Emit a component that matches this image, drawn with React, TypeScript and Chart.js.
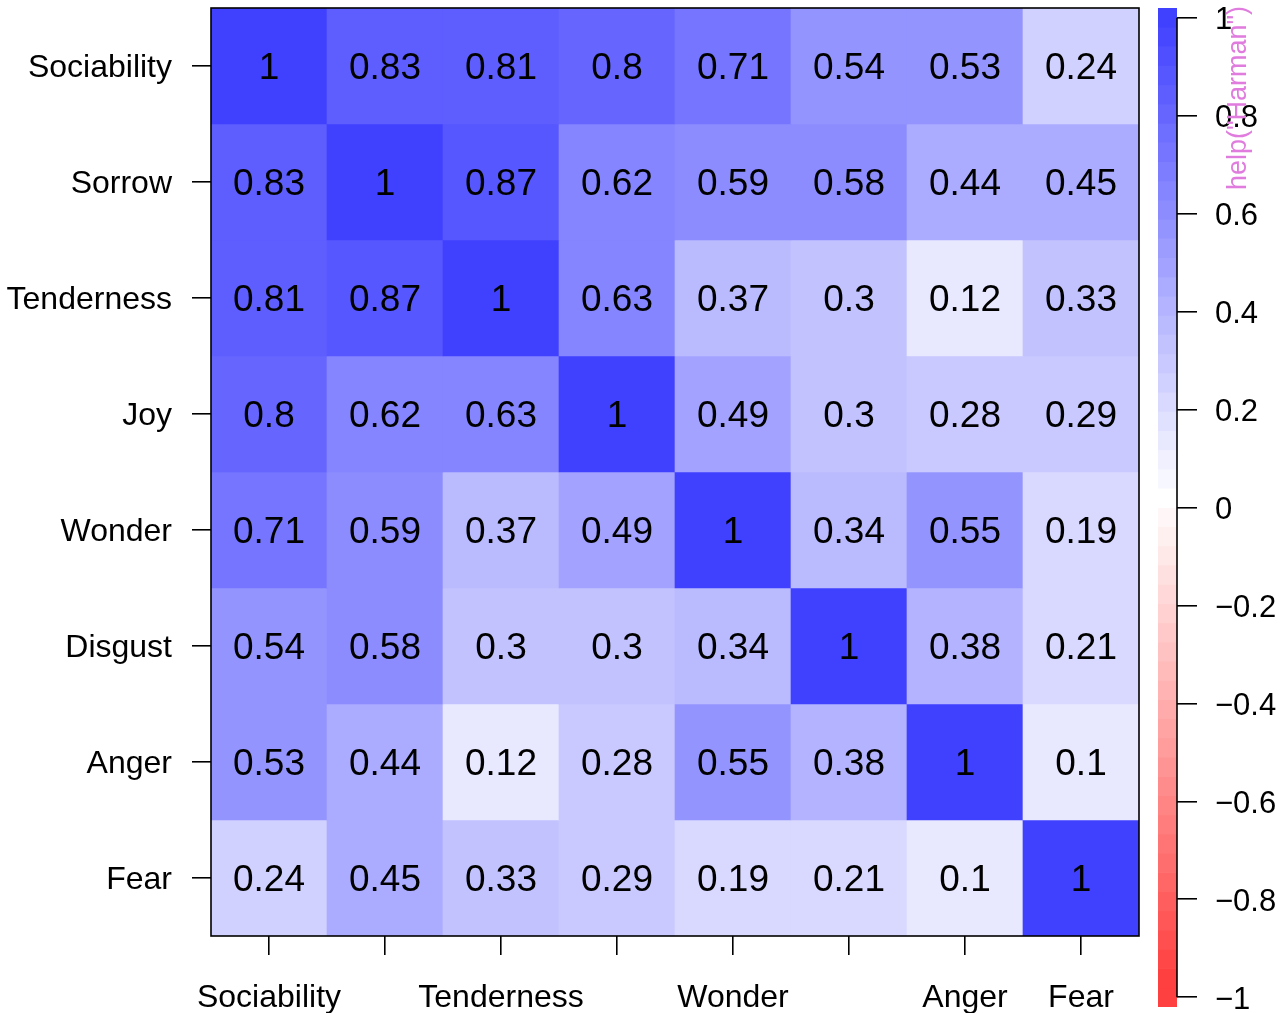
import React, { useEffect, useRef } from "react";
import { Chart, registerables } from "chart.js";

Chart.register(...registerables);

const FONT = '"Liberation Sans", Arial, Helvetica, sans-serif';

const rowLabels = ["Sociability", "Sorrow", "Tenderness", "Joy", "Wonder", "Disgust", "Anger", "Fear"];
const colLabels = ["Sociability", "Sorrow", "Tenderness", "Joy", "Wonder", "Disgust", "Anger", "Fear"];
// R drops overlapping axis labels: only these are printed
const shownColLabels = ["Sociability", "", "Tenderness", "", "Wonder", "", "Anger", "Fear"];

const sociability = [1, 0.83, 0.81, 0.8, 0.71, 0.54, 0.53, 0.24];
const sorrow = [0.83, 1, 0.87, 0.62, 0.59, 0.58, 0.44, 0.45];
const tenderness = [0.81, 0.87, 1, 0.63, 0.37, 0.3, 0.12, 0.33];
const joy = [0.8, 0.62, 0.63, 1, 0.49, 0.3, 0.28, 0.29];
const wonder = [0.71, 0.59, 0.37, 0.49, 1, 0.34, 0.55, 0.19];
const disgust = [0.54, 0.58, 0.3, 0.3, 0.34, 1, 0.38, 0.21];
const anger = [0.53, 0.44, 0.12, 0.28, 0.55, 0.38, 1, 0.1];
const fear = [0.24, 0.45, 0.33, 0.29, 0.19, 0.21, 0.1, 1];

const matrix = [sociability, sorrow, tenderness, joy, wonder, disgust, anger, fear];

const colorbarTicks = [1, 0.8, 0.6, 0.4, 0.2, 0, -0.2, -0.4, -0.6, -0.8, -1];
const colorbarTickLabels = ["1", "0.8", "0.6", "0.4", "0.2", "0", "\u22120.2", "\u22120.4", "\u22120.6", "\u22120.8", "\u22121"];
const titleText = 'help("Harman")';

const NCOL = 51;
const ALPHA = 0.75;

function levelColor(level: number): string {
  // level in -25..25 ; red-white-blue ramp with alpha 0.75 over white
  const t = Math.min(1, Math.abs(level) / 25);
  const c = Math.round(255 * (1 - ALPHA * t));
  return level >= 0 ? `rgb(${c},${c},255)` : `rgb(255,${c},${c})`;
}

function valueColor(v: number): string {
  let bin = Math.ceil((v + 1) * (NCOL / 2)) - 1;
  bin = Math.max(0, Math.min(NCOL - 1, bin));
  return levelColor(bin - 25);
}

function fixSize(prop: "width" | "height", size: number) {
  return (scale: any) => {
    scale[prop] = size;
    scale.paddingTop = 0;
    scale.paddingBottom = 0;
    scale.paddingLeft = 0;
    scale.paddingRight = 0;
  };
}

export default function App() {
  const mainRef = useRef<HTMLCanvasElement>(null);
  const barRef = useRef<HTMLCanvasElement>(null);

  useEffect(() => {
    const cellTextPlugin = {
      id: "cellText",
      afterDatasetsDraw(chart: any) {
        const { ctx, chartArea, scales } = chart;
        const xs = scales.x;
        const ys = scales.y;
        ctx.save();
        ctx.font = `37px ${FONT}`;
        ctx.fillStyle = "#000";
        ctx.textAlign = "center";
        ctx.textBaseline = "middle";
        matrix.forEach((row, r) => {
          row.forEach((v, c) => {
            const x = xs.getPixelForValue(c);
            const y = ys.getPixelForValue(r + 0.5);
            ctx.fillText(String(v), x, y + 3);
          });
        });
        ctx.lineWidth = 1.6;
        ctx.strokeStyle = "#000";
        ctx.strokeRect(chartArea.left, chartArea.top, chartArea.right - chartArea.left, chartArea.bottom - chartArea.top);
        ctx.restore();
      },
    };

    const main = new Chart(mainRef.current as HTMLCanvasElement, {
      type: "bar",
      data: {
        labels: colLabels,
        datasets: matrix.map((row, r) => ({
          label: rowLabels[r],
          data: row.map(() => [r, r + 1]) as any,
          backgroundColor: row.map(valueColor),
          borderWidth: 0,
          grouped: false,
          barPercentage: 1,
          categoryPercentage: 1,
        })),
      },
      options: {
        responsive: false,
        animation: false,
        devicePixelRatio: 1,
        layout: { padding: { left: 0, top: 8, right: 144, bottom: 0 } },
        plugins: { legend: { display: false }, tooltip: { enabled: false } },
        scales: {
          x: {
            type: "category",
            offset: true,
            border: { display: false },
            grid: { offset: false, drawOnChartArea: false, drawTicks: true, tickLength: 19, color: "#000", lineWidth: 1.6 },
            ticks: {
              autoSkip: false,
              maxRotation: 0,
              minRotation: 0,
              padding: 24,
              color: "#000",
              font: { family: FONT, size: 32 },
              callback: (_v: any, i: number) => shownColLabels[i],
            },
            afterFit: fixSize("height", 77),
          },
          y: {
            type: "linear",
            min: 0,
            max: 8,
            reverse: true,
            border: { display: false },
            grid: { drawOnChartArea: false, drawTicks: true, tickLength: 19, color: "#000", lineWidth: 1.6 },
            ticks: {
              padding: 20,
              labelOffset: 2,
              color: "#000",
              font: { family: FONT, size: 32 },
              callback: (v: any) => rowLabels[Math.floor(Number(v))],
            },
            afterBuildTicks: (scale: any) => {
              scale.ticks = rowLabels.map((_l, i) => ({ value: i + 0.5 }));
            },
            afterFit: fixSize("width", 211),
          },
        },
      } as any,
      plugins: [cellTextPlugin],
    });

    // colour bar legend: 52 equal bands spanning -1.02 .. 1.02
    const NB = 52;
    const top = 1.02;
    const step = 2.04 / NB;
    const bandLevels: number[] = [];
    for (let k = 0; k < NB; k++) bandLevels.push(k <= 25 ? 25 - k : -(k - 25));

    const cbPlugin = {
      id: "cbExtras",
      afterDraw(chart: any) {
        const { ctx, chartArea, scales } = chart;
        const ys = scales.y;
        ctx.save();
        ctx.strokeStyle = "#000";
        ctx.lineWidth = 1.6;
        ctx.beginPath();
        ctx.moveTo(chartArea.right, ys.getPixelForValue(1));
        ctx.lineTo(chartArea.right, ys.getPixelForValue(-1));
        ctx.stroke();
        ctx.translate(99, 98);
        ctx.rotate(-Math.PI / 2);
        ctx.font = `27px ${FONT}`;
        ctx.fillStyle = "#E07CDE";
        ctx.textAlign = "center";
        ctx.textBaseline = "middle";
        ctx.fillText(titleText, 0, 0);
        ctx.restore();
      },
    };

    const bar = new Chart(barRef.current as HTMLCanvasElement, {
      type: "bar",
      data: {
        labels: ["scale"],
        datasets: bandLevels.map((lv, k) => ({
          data: [[top - step * (k + 1), top - step * k]] as any,
          backgroundColor: levelColor(lv),
          borderWidth: 0,
          grouped: false,
          barPercentage: 1,
          categoryPercentage: 1,
        })),
      },
      options: {
        responsive: false,
        animation: false,
        devicePixelRatio: 1,
        layout: { padding: { left: 18, top: 8, right: 0, bottom: 6 } },
        plugins: { legend: { display: false }, tooltip: { enabled: false } },
        scales: {
          x: { display: false },
          y: {
            type: "linear",
            position: "right",
            min: -1.02,
            max: 1.02,
            border: { display: false },
            grid: { drawOnChartArea: false, drawTicks: true, tickLength: 20, color: "#000", lineWidth: 1.6 },
            ticks: {
              padding: 18,
              labelOffset: 3,
              color: "#000",
              font: { family: FONT, size: 31 },
              callback: (v: any) => {
                const i = colorbarTicks.findIndex((t) => Math.abs(t - Number(v)) < 1e-6);
                return i >= 0 ? colorbarTickLabels[i] : "";
              },
            },
            afterBuildTicks: (scale: any) => {
              scale.ticks = colorbarTicks.map((t) => ({ value: t }));
            },
            afterFit: fixSize("width", 106),
          },
        },
      } as any,
      plugins: [cbPlugin],
    });

    return () => {
      main.destroy();
      bar.destroy();
    };
  }, []);

  return (
    <div style={{ position: "absolute", left: 0, top: 0, width: 1283, height: 1013, background: "#fff", overflow: "hidden" }}>
      <canvas ref={mainRef} width={1283} height={1013} style={{ position: "absolute", left: 0, top: 0, width: 1283, height: 1013 }} />
      <canvas ref={barRef} width={143} height={1013} style={{ position: "absolute", left: 1140, top: 0, width: 143, height: 1013 }} />
    </div>
  );
}
